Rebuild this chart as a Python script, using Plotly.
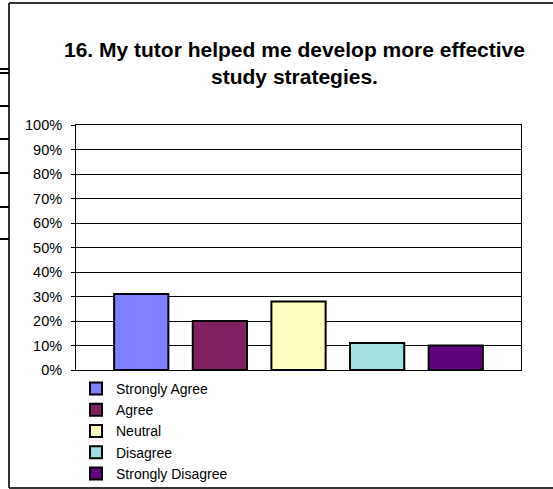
import plotly.graph_objects as go

categories = ["Strongly Agree", "Agree", "Neutral", "Disagree", "Strongly Disagree"]
values = [31, 20, 28, 11, 10]
colors = ["#8080FF", "#802060", "#FFFFC0", "#A0E0E0", "#600080"]
tick_vals = [0, 10, 20, 30, 40, 50, 60, 70, 80, 90, 100]
tick_text = [f"{v}%" for v in tick_vals]
title_text = "<b>16. My tutor helped me develop more effective<br>study strategies.</b>"

W, H = 553, 489
L, R, T, B = 76, 521, 125, 370

def px(x):
    return (x - L) / (R - L)

def py(y):
    return (B - y) / (B - T)

fig = go.Figure()
for i, (c, v, col) in enumerate(zip(categories, values, colors)):
    fig.add_trace(go.Bar(
        x=[i], y=[v], name=c, width=0.69,
        marker=dict(color=col, line=dict(color="#000000", width=2)),
        hoverinfo="skip",
    ))

shapes = []
border = dict(color="#333333", width=2)
# chart outer border (left, top, bottom; cut off on the right)
shapes.append(dict(type="line", xref="paper", yref="paper",
                   x0=px(9), x1=px(9), y0=py(488), y1=py(3), line=border))
shapes.append(dict(type="line", xref="paper", yref="paper",
                   x0=px(9), x1=px(560), y0=py(3), y1=py(3), line=border))
shapes.append(dict(type="line", xref="paper", yref="paper",
                   x0=px(9), x1=px(560), y0=py(488), y1=py(488), line=border))
# small table lines on the far left
for yy in [69, 73, 106, 139, 173, 207, 239]:
    shapes.append(dict(type="line", xref="paper", yref="paper",
                       x0=px(0), x1=px(9), y0=py(yy), y1=py(yy),
                       line=dict(color="#000000", width=2)))

fig.update_layout(
    width=W, height=H,
    margin=dict(l=L, r=W - R, t=T, b=H - B, pad=0, autoexpand=False),
    paper_bgcolor="white", plot_bgcolor="white",
    font=dict(family="Liberation Sans, Arial, sans-serif", color="#000000", size=14),
    barmode="overlay",
    showlegend=True,
    title=dict(text=title_text, x=294.5 / W, xanchor="center",
               y=1 - 57 / H, yanchor="top", yref="container",
               font=dict(size=21, family="Liberation Sans, Arial, sans-serif")),
    xaxis=dict(range=[-0.83, 4.83], showticklabels=False, ticks="",
               showgrid=False, zeroline=False, showline=True, linecolor="#000000",
               linewidth=1, mirror=True, fixedrange=True),
    yaxis=dict(range=[0, 100], tickvals=tick_vals, ticktext=tick_text,
               ticks="outside", ticklen=4, tickcolor="#000000", tickwidth=1,
               ticklabelstandoff=6,
               showgrid=True, gridcolor="#000000", gridwidth=1,
               zeroline=False, showline=True, linecolor="#000000", linewidth=1,
               mirror=True, tickfont=dict(size=14.5), fixedrange=True),
    legend=dict(x=px(76), xanchor="left", y=py(373), yanchor="top",
                font=dict(size=14), bgcolor="rgba(0,0,0,0)",
                tracegroupgap=0, itemclick=False, itemdoubleclick=False),
    shapes=shapes,
)

fig.write_html("out.html",
               config={"displayModeBar": False, "staticPlot": True},
               post_script="document.body.style.margin='0';document.body.style.padding='0';")
